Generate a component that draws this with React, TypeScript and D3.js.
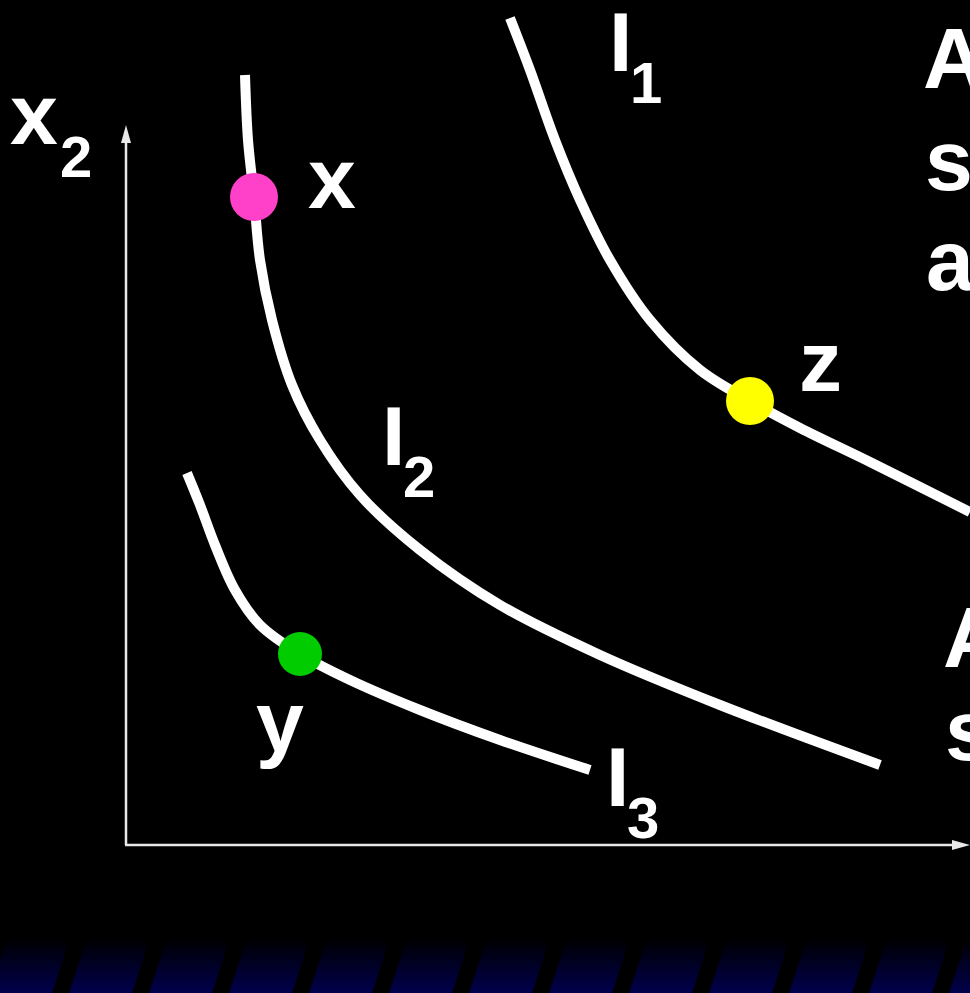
import React from "react";
import * as d3 from "d3";

// Curve points in axis units (pixels from origin, x right, y up)
const curveI1: [number, number][] = [
  [384, 827], [404, 775], [429, 705], [454, 645], [484, 585], [524, 525],
  [574, 475], [624, 444], [674, 417], [744, 383], [844, 333],
];
const curveI2: [number, number][] = [
  [119, 770], [122, 705], [128, 648], [134, 585], [146, 525], [166, 460],
  [194, 405], [234, 350], [294, 295], [374, 240], [474, 190], [594, 140], [754, 80],
];
const curveI3: [number, number][] = [
  [61, 372], [74, 340], [89, 300], [109, 255], [134, 220], [174, 191],
  [224, 165], [294, 135], [374, 105], [464, 75],
];
const bundles = [
  { name: "x", pt: [128, 648], color: "#ff40c8", r: 24 },
  { name: "z", pt: [624, 444], color: "#ffff00", r: 24 },
  { name: "y", pt: [174, 191], color: "#00cc00", r: 22 },
];
const curveLabels = [
  { sub: "1", pt: [483, 774] },
  { sub: "2", pt: [256, 380] },
  { sub: "3", pt: [480, 39] },
];
const pointLabels = [
  { text: "x", pt: [182, 637] },
  { text: "z", pt: [673, 454] },
  { text: "y", pt: [130, 94] },
];
const sideText = [
  { text: "A", pt: [797, 757] },
  { text: "s", pt: [799, 655] },
  { text: "a", pt: [800, 555] },
  { text: "A", pt: [817, 178] },
  { text: "s", pt: [819, 85] },
];
const stripeIdx = d3.range(0, 13);

const W = 970, H = 993;
const FONT = "'Liberation Sans', Arial, sans-serif";

export default function App() {
  const x = d3.scaleLinear().domain([0, 844]).range([126, 970]);
  const y = d3.scaleLinear().domain([0, 845]).range([845, 0]);
  const line = d3
    .line<[number, number]>()
    .x((d) => x(d[0]))
    .y((d) => y(d[1]))
    .curve(d3.curveCatmullRom.alpha(0.5));

  const stripeW = 63, period = 80, slant = 18, top = 938, bottom = H;

  return (
    <svg
      width={W}
      height={H}
      style={{ position: "absolute", left: 0, top: 0, background: "#000" }}
    >
      <defs>
        <linearGradient id="band" x1="0" y1={top} x2="0" y2={bottom} gradientUnits="userSpaceOnUse">
          <stop offset="0" stopColor="#000000" />
          <stop offset="1" stopColor="#00004c" />
        </linearGradient>
        <clipPath id="clip">
          <rect x={0} y={0} width={W} height={H} />
        </clipPath>
      </defs>
      <rect x={0} y={0} width={W} height={H} fill="#000" />
      <g clipPath="url(#clip)">
        {stripeIdx.map((i) => {
          const bl = -11 + i * period;
          const pts = [
            [bl, bottom],
            [bl + stripeW, bottom],
            [bl + stripeW + slant, top],
            [bl + slant, top],
          ];
          return <polygon key={i} points={pts.map((p) => p.join(",")).join(" ")} fill="url(#band)" />;
        })}

        {/* axes */}
        <line x1={x(0)} y1={y(0)} x2={x(0)} y2={y(705)} stroke="#e8e8e8" strokeWidth={2.5} />
        <polygon points={`${x(0)},${y(720)} ${x(0) - 5},${y(702)} ${x(0) + 5},${y(702)}`} fill="#e8e8e8" />
        <line x1={x(0) - 1} y1={y(0)} x2={x(828)} y2={y(0)} stroke="#e8e8e8" strokeWidth={2.5} />
        <polygon points={`${x(844)},${y(0)} ${x(826)},${y(0) - 5} ${x(826)},${y(0) + 5}`} fill="#e8e8e8" />

        {/* curves */}
        {[curveI1, curveI2, curveI3].map((c, i) => (
          <path key={i} d={line(c) || ""} fill="none" stroke="#fff" strokeWidth={10} strokeLinecap="butt" />
        ))}

        {/* bundles */}
        {bundles.map((b) => (
          <circle key={b.name} cx={x(b.pt[0])} cy={y(b.pt[1])} r={b.r} fill={b.color} />
        ))}

        <g fontFamily={FONT} fontWeight="bold" fill="#fff">
          {/* axis label x2 */}
          <text x={10} y={144} fontSize={86}>x</text>
          <text x={60} y={177} fontSize={58}>2</text>

          {curveLabels.map((l, i) => (
            <g key={i}>
              <text x={x(l.pt[0])} y={y(l.pt[1])} fontSize={84}>I</text>
              <text x={x(l.pt[0]) + 21} y={y(l.pt[1]) + 32} fontSize={58}>{l.sub}</text>
            </g>
          ))}

          {pointLabels.map((l) => (
            <text key={l.text} x={x(l.pt[0])} y={y(l.pt[1])} fontSize={86}>{l.text}</text>
          ))}

          {sideText.map((t, i) => (
            <text key={i} x={x(t.pt[0])} y={y(t.pt[1])} fontSize={86}>{t.text}</text>
          ))}
        </g>
      </g>
    </svg>
  );
}
